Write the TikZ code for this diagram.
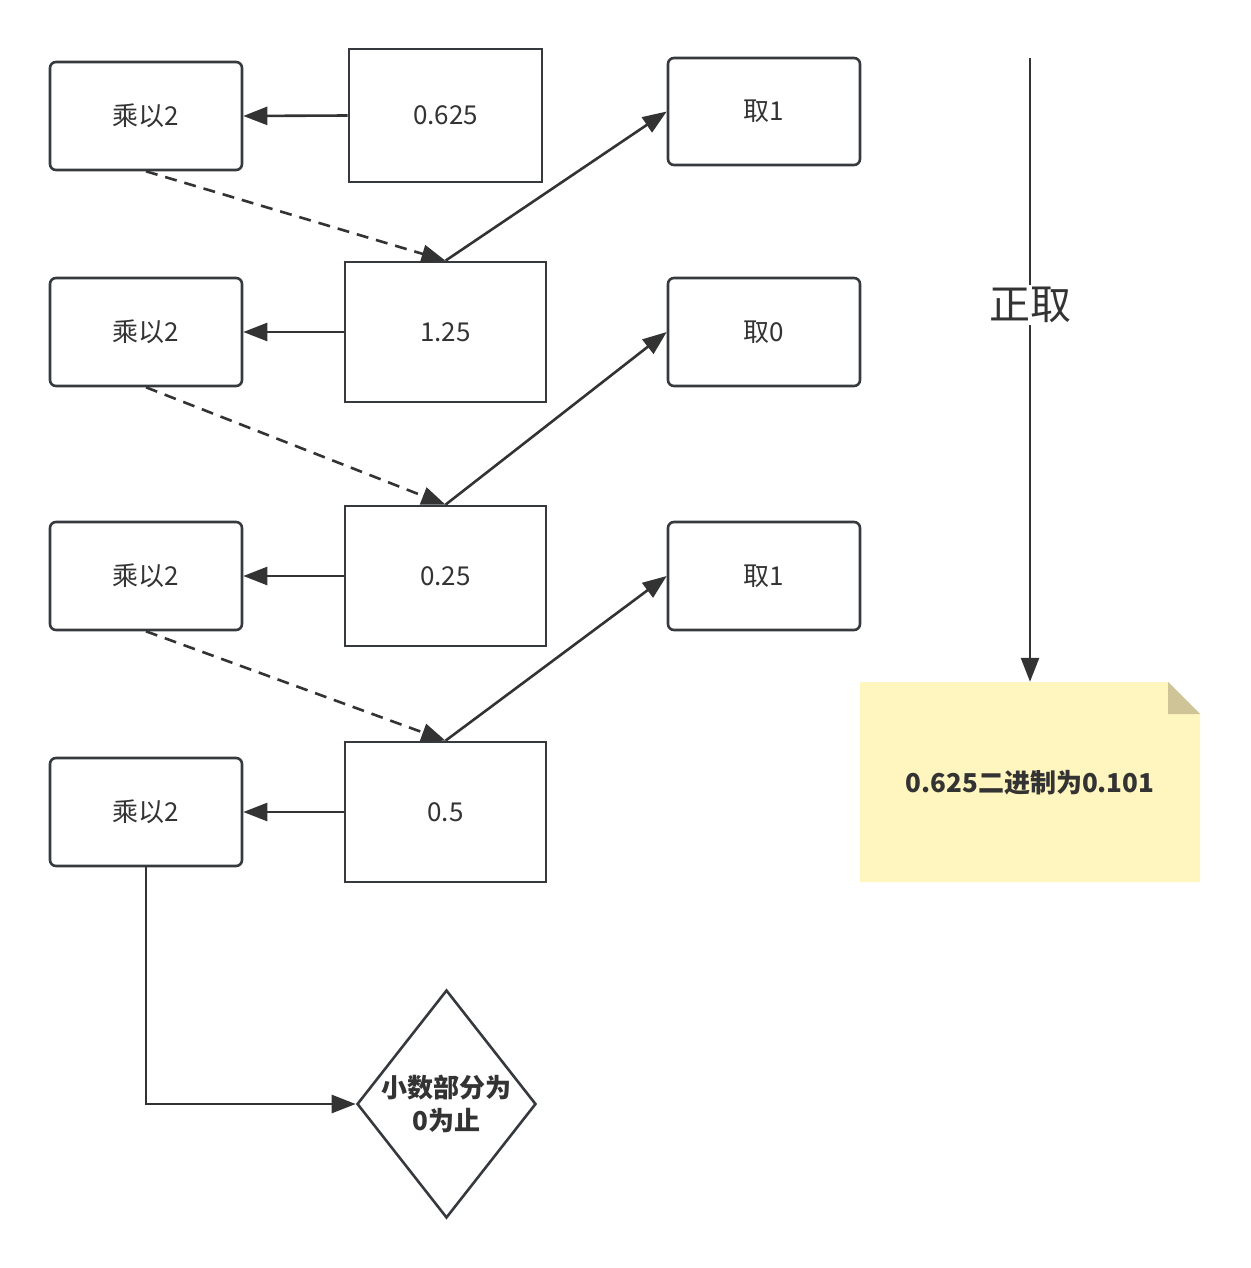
\documentclass[tikz,border=0pt]{standalone}
\usepackage{fontspec}
\setmainfont{Noto Sans CJK SC}
\usetikzlibrary{arrows.meta,shapes.geometric,patterns}
\definecolor{ink}{HTML}{333333}
\definecolor{boxline}{HTML}{36393D}
\definecolor{notefill}{HTML}{FFF5BE}
\definecolor{foldfill}{HTML}{CFC497}
\tikzset{
  conn/.style={draw=ink, line width=2.6pt, -{Triangle[length=24pt,width=18pt]}},
  dconn/.style={conn, dash pattern=on 12pt off 8pt},
  opbox/.style={draw=boxline, line width=2.6pt, rounded corners=6pt, minimum width=192pt, minimum height=108pt, inner sep=0pt, font=\fontsize{26pt}{30pt}\selectfont, text=ink},
  valbox/.style={draw=boxline, line width=2.6pt, minimum width=201pt, minimum height=140pt, inner sep=0pt, font=\fontsize{26pt}{30pt}\selectfont, text=ink},
}
\begin{document}
\begin{tikzpicture}[x=1pt,y=-1pt]
\useasboundingbox (0,0) rectangle (1250,1268);
% operation boxes
\node[opbox] (m1) at (146,116) {乘以2};
\node[opbox] (m2) at (146,332) {乘以2};
\node[opbox] (m3) at (146,576) {乘以2};
\node[opbox] (m4) at (146,812) {乘以2};
% value boxes
\node[valbox, minimum width=193pt, minimum height=133pt] (v1) at (445.5,115.5) {0.625};
\node[valbox] (v2) at (445.5,332) {1.25};
\node[valbox] (v3) at (445.5,576) {0.25};
\node[valbox] (v4) at (445.5,812) {0.5};
% take boxes
\node[opbox, minimum height=107pt] (t1) at (764,111.5) {取1};
\node[opbox] (t2) at (764,332) {取0};
\node[opbox] (t3) at (764,576) {取1};
% diamond
\node[diamond, draw=boxline, line width=2.6pt, minimum width=179pt, minimum height=228pt, inner sep=0pt] (d) at (446.5,1104) {};
\node[font=\bfseries\fontsize{26pt}{33pt}\selectfont, text=ink, align=center] (dl) at (446.5,1104) {小数部分为\\0为止};
% note
\node[minimum width=340pt, minimum height=200pt, inner sep=0pt] (note) at (1030,782) {};
\fill[notefill] (860,682) -- (1168,682) -- (1200,714) -- (1200,882) -- (860,882) -- cycle;
\fill[foldfill] (1168,682) -- (1168,714) -- (1200,714) -- cycle;
\node[font=\bfseries\fontsize{26pt}{30pt}\selectfont, text=ink] (nt) at (1030,783) {0.625二进制为0.101};
% connectors
\draw[conn] (v1.west) -- (m1.east);
\draw[conn] (v2.west) -- (m2.east);
\draw[conn] (v3.west) -- (m3.east);
\draw[conn] (v4.west) -- (m4.east);
\draw[dconn] (m1.south) -- (v2.north);
\draw[dconn] (m2.south) -- (v3.north);
\draw[dconn] (m3.south) -- (v4.north);
\draw[conn] (v2.north) -- (t1.west);
\draw[conn] (v3.north) -- (t2.west);
\draw[conn] (v4.north) -- (t3.west);
\draw[conn] (m4.south) |- (d.west);
\coordinate (top) at (1030,58);
\draw[conn] (top) -- node[pos=0.396, fill=white, inner sep=2pt, font=\fontsize{41pt}{45pt}\selectfont, text=ink] (lbl) {正取} (note.north);
\end{tikzpicture}
\end{document}
